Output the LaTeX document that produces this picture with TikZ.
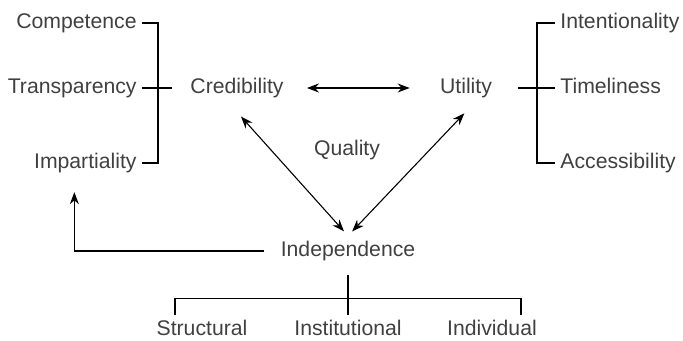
\documentclass[tikz,border=0pt]{standalone}
\usepackage{fontspec}
\setmainfont{Liberation Sans}
\usetikzlibrary{arrows.meta}
\tikzset{
  lbl/.style={font=\fontsize{10.6}{12}\selectfont,text=black!75,inner sep=2.5pt,
    text height=7.6pt,text depth=2.2pt},
  link/.style={line width=0.55pt},
  dbl/.style={link,{Stealth[length=6pt,width=4.5pt]}-{Stealth[length=6pt,width=4.5pt]}},
  sgl/.style={link,-{Stealth[length=6pt,width=4.5pt]}}
}
\begin{document}
\begin{tikzpicture}[x=0.5pt,y=-0.5pt,every node/.style={lbl}]
      \useasboundingbox (0,0) rectangle (683,341);
      \draw
        (142,23) node[anchor=east] (comp){Competence}
        (142,88) node[anchor=east] (trans){Transparency}
        (142,163) node[anchor=east] (imp){Impartiality}
        (237,88) node (cred){Credibility}
        (466,88) node (util){Utility}
        (555,23) node[anchor=west] (intent){Intentionality}
        (555,88) node[anchor=west] (timel){Timeliness}
        (555,163) node[anchor=west] (access){Accessibility}
        (347,150) node (qual){Quality}
        (348,251) node (indep){Independence}
        (202,330) node (struct){Structural}
        (348,330) node (instit){Institutional}
        (492,330) node (indiv){Individual};
      \begin{scope}[link]
        \draw (comp.east) -- ++(16,0) |- (imp.east);
        \draw[shorten >=6.5pt] (trans.east) -- (cred.west);
        \draw (intent.west) -- ++(-18,0) |- (access.west);
        \draw[shorten <=10.5pt] (util.east) -- (timel.west);
        \draw[shorten <=4.5pt] (indep.south) -- (instit.north);
        \draw ([xshift=-13.5pt]struct.north) -- ++(0,-16) -| ([xshift=14.5pt]indiv.north);
      \end{scope}
      \draw[dbl,shorten <=9pt,shorten >=12.5pt] (cred.east) -- (util.west);
      \draw[dbl,shorten <=9pt,shorten >=3pt] ([xshift=-4pt]cred.south) -- (indep.north);
      \draw[dbl,shorten <=7pt,shorten >=3pt] ([xshift=4pt]util.south) -- (indep.north);
      \draw[sgl,shorten <=5.5pt,shorten >=7pt] (indep.west) -| ([xshift=-5.5pt]imp.south);
    \end{tikzpicture}
\end{document}
